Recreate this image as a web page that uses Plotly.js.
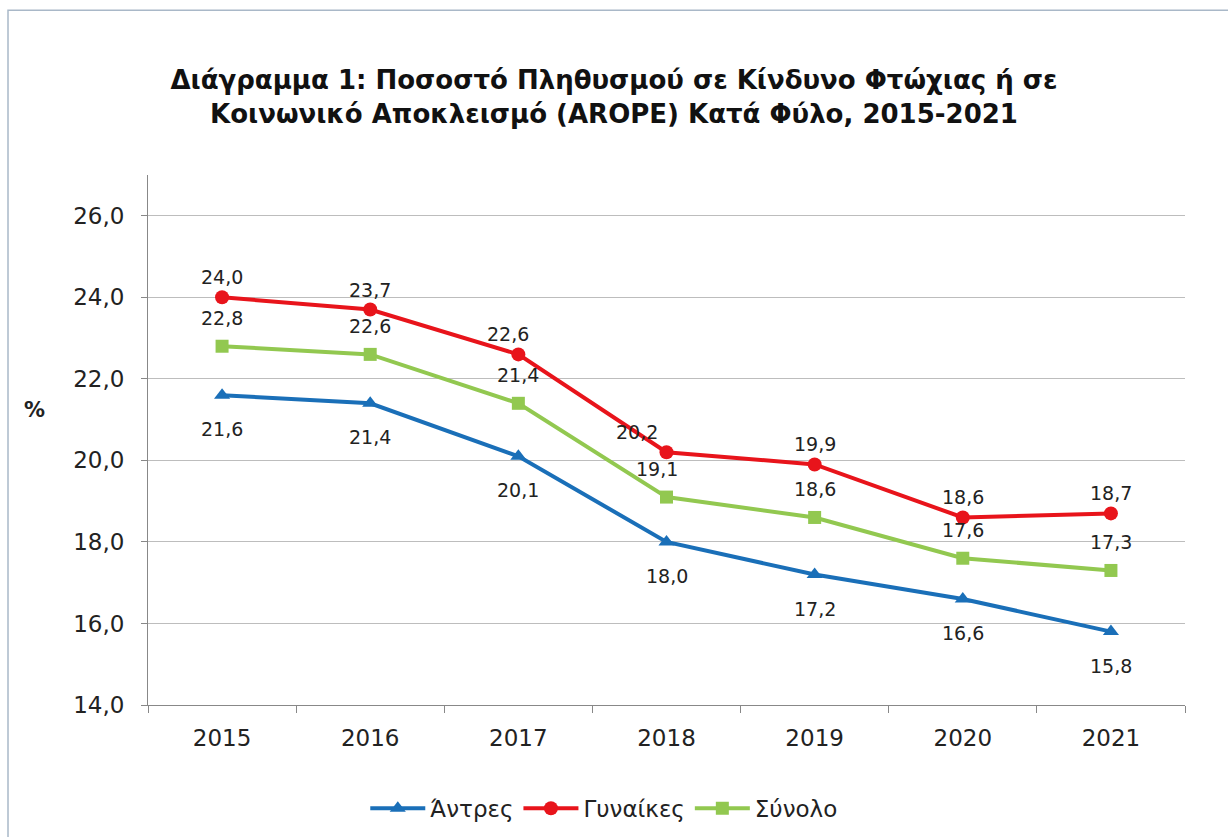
<!DOCTYPE html>
<html>
<head>
<meta charset="utf-8">
<script src="https://cdn.plot.ly/plotly-3.0.1.min.js"></script>
<style>body{margin:0;background:#fff}#chart{width:1228px;height:837px}</style>
</head>
<body>
<div id="chart"></div>
<script>
const years = ['2015','2016','2017','2018','2019','2020','2021'];
const men = [21.6, 21.4, 20.1, 18.0, 17.2, 16.6, 15.8];
const women = [24.0, 23.7, 22.6, 20.2, 19.9, 18.6, 18.7];
const total = [22.8, 22.6, 21.4, 19.1, 18.6, 17.6, 17.3];
const yTicks = [14, 16, 18, 20, 22, 24, 26];

const font = 'DejaVu Sans, Verdana, sans-serif';
const seriesDefs = [
  {name: 'Άντρες', y: men, color: '#1a6fb8', symbol: 'triangle-up', size: 14, yshift: -34, xshifts: [0, 0, 0, 0, 0, 0, 0]},
  {name: 'Γυναίκες', y: women, color: '#e8141b', symbol: 'circle', size: 14, yshift: 20, xshifts: [0, 0, -10, -30, 0, 0, 0]},
  {name: 'Σύνολο', y: total, color: '#92c850', symbol: 'square', size: 13, yshift: 28, xshifts: [0, 0, 0, -10, 0, 0, 0]}
];
const data = seriesDefs.map(s => ({
  x: years, y: s.y, name: s.name, type: 'scatter', mode: 'lines+markers',
  line: {color: s.color, width: 4},
  marker: {color: s.color, symbol: s.symbol, size: s.size},
  cliponaxis: false
}));
const labelAnns = [];
seriesDefs.forEach(s => {
  s.y.forEach((v, i) => {
    labelAnns.push({
      x: i, y: v, xref: 'x', yref: 'y', showarrow: false,
      text: v.toFixed(1).replace('.', ','),
      yshift: s.yshift, xshift: s.xshifts[i],
      xanchor: 'center', yanchor: 'middle',
      font: {family: font, size: 19, color: '#222'}
    });
  });
});
const layout = {
  width: 1228, height: 837,
  margin: {l: 148, r: 43, t: 175, b: 132, autoexpand: false},
  separators: ',.',
  paper_bgcolor: '#fff', plot_bgcolor: '#fff',
  font: {family: font, color: '#222'},
  title: {
    text: '<b>Διάγραμμα 1: Ποσοστό Πληθυσμού σε Κίνδυνο Φτώχιας ή σε<br>Κοινωνικό Αποκλεισμό (AROPE) Κατά Φύλο, 2015-2021</b>',
    font: {family: font, size: 26, color: '#111'},
    x: 0.5, xanchor: 'center', y: 0.894, yanchor: 'middle'
  },
  xaxis: {
    type: 'category', range: [-0.5, 6.5], tickson: 'boundaries',
    ticks: 'outside', ticklen: 7, tickcolor: '#888',
    showline: true, linecolor: '#888', linewidth: 1,
    showgrid: false, zeroline: false, ticklabelstandoff: 12,
    tickfont: {family: font, size: 23, color: '#222'}
  },
  yaxis: {
    range: [14, 27], tickmode: 'array', tickvals: yTicks,
    tickformat: '.1f', ticks: 'outside', ticklen: 6, tickcolor: '#888',
    showline: true, linecolor: '#888', linewidth: 1,
    showgrid: true, gridcolor: '#bdbdbd', gridwidth: 1, zeroline: false,
    ticklabelstandoff: 12,
    tickfont: {family: font, size: 23, color: '#222'}
  },
  showlegend: true,
  legend: {
    orientation: 'h', x: 0.44, xanchor: 'center', y: -0.195, yanchor: 'middle',
    font: {family: font, size: 23, color: '#222'}, itemwidth: 55
  },
  annotations: [{
    text: '<b>%</b>', xref: 'paper', yref: 'paper', x: -0.109, xanchor: 'center',
    y: 0.556, yanchor: 'middle',
    showarrow: false, font: {family: font, size: 21, color: '#222'}
  }].concat(labelAnns),
  shapes: [{
    type: 'rect', xref: 'paper', yref: 'paper',
    x0: -0.135, x1: 1.05, y0: -0.26, y1: 1.311,
    line: {color: '#a9b8c8', width: 1.5}, fillcolor: 'rgba(0,0,0,0)'
  }]
};
Plotly.newPlot('chart', data, layout, {displayModeBar: false});
</script>
</body>
</html>
